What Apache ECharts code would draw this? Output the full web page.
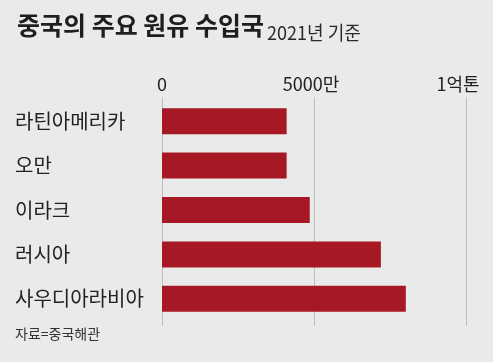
<!DOCTYPE html>
<html><head><meta charset="utf-8">
<script src="https://cdn.jsdelivr.net/npm/echarts@6/dist/echarts.min.js"></script>
<style>html,body{margin:0;padding:0;background:#eaeaea;}#c{width:493px;height:362px;}</style>
</head><body><div id="c"></div>
<script>
const categories = ['라틴아메리카', '오만', '이라크', '러시아', '사우디아라비아'];
const values = [4100, 4100, 4860, 7200, 8020]; // 단위: 만 톤
const tickValues = [0, 5000, 10000];
const tickLabels = ['0', '5000만', '1억톤'];
const titleMain = '중국의 주요 원유 수입국';
const titleSub = '2021년 기준';
const source = '자료=중국해관';

const FONT = '"Noto Sans CJK KR", "Noto Sans", sans-serif';
const chart = echarts.init(document.getElementById('c'), null, {renderer: 'canvas'});
chart.setOption({
  backgroundColor: '#eaeaea',
  animation: false,
  graphic: [{
    type: 'text', x: 17, y: 13,
    style: {text: titleMain, fontFamily: FONT, fontSize: 25, fontWeight: 'bold', fill: '#1e1e1e', verticalAlign: 'top'}
  }, {
    type: 'text', x: 267, y: 23, scaleX: 0.95,
    style: {text: titleSub, fontFamily: FONT, fontSize: 19, fontWeight: 'normal', fill: '#2a2a2a', verticalAlign: 'top'}
  }, {
    type: 'text', x: 15, y: 327,
    style: {text: source, fontFamily: FONT, fontSize: 14, fill: '#333', verticalAlign: 'top'}
  }],
  grid: {left: 162, right: 27, top: 99, bottom: 41, containLabel: false},
  xAxis: [{
    type: 'value', position: 'top', min: 0, max: 10000, interval: 5000,
    axisLine: {show: false},
    axisTick: {show: true, length: 2, lineStyle: {color: '#bdbdbd'}},
    splitLine: {show: true, lineStyle: {color: '#bdbdbd', width: 1}},
    axisLabel: {
      margin: 6, fontFamily: FONT, fontSize: 18, color: '#222',
      formatter: function (v) {
        const i = tickValues.indexOf(v);
        return i >= 0 ? '{t' + i + '|' + tickLabels[i] + '}' : '';
      },
      rich: {
        t0: {fontFamily: FONT, fontSize: 18, color: '#222'},
        t1: {fontFamily: FONT, fontSize: 18, color: '#222', padding: [0, 6, 0, 0]},
        t2: {fontFamily: FONT, fontSize: 18, color: '#222', padding: [0, 16, 0, 0]}
      }
    }
  }, {
    type: 'value', position: 'bottom', min: 0, max: 10000, interval: 5000,
    axisLine: {show: false},
    axisTick: {show: true, length: 5, lineStyle: {color: '#bdbdbd'}},
    splitLine: {show: false}, axisLabel: {show: false}
  }],
  yAxis: {
    type: 'category', inverse: true, data: categories,
    axisLine: {show: false}, axisTick: {show: false},
    axisLabel: {align: 'left', margin: 147, fontFamily: FONT, fontSize: 20, color: '#222'}
  },
  series: [{
    type: 'bar', data: values, barWidth: 26, xAxisIndex: 0,
    itemStyle: {color: '#a51824'}
  }]
});
</script></body></html>
